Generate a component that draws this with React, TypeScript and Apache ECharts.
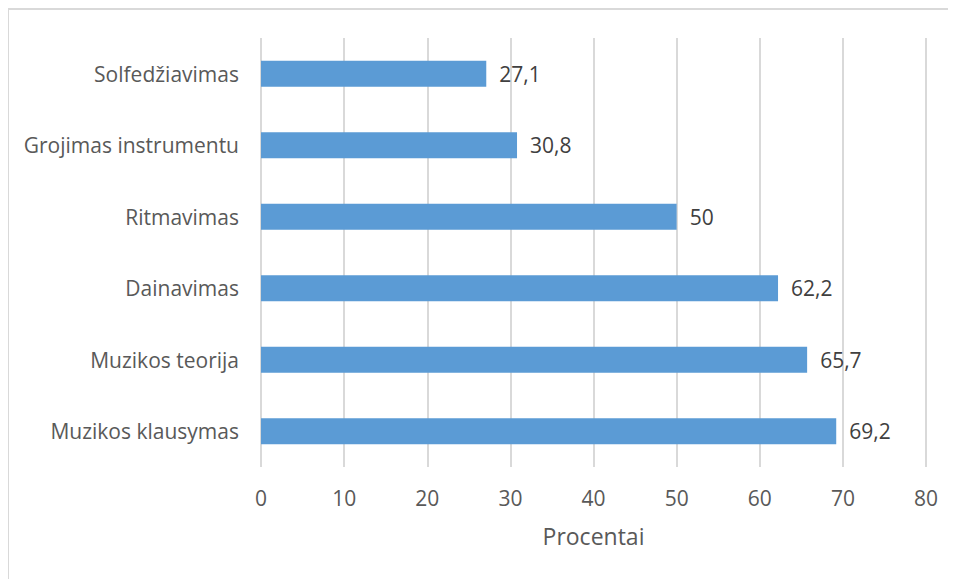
import React, { useEffect, useRef } from "react";
import * as echarts from "echarts";

const categories = [
  "Muzikos klausymas",
  "Muzikos teorija",
  "Dainavimas",
  "Ritmavimas",
  "Grojimas instrumentu",
  "Solfedžiavimas",
];
const values = [69.2, 65.7, 62.2, 50, 30.8, 27.1];
const axisName = "Procentai";
const xMin = 0;
const xMax = 80;
const xStep = 10;

const FONT = "'Open Sans', sans-serif";

export default function App() {
  const ref = useRef<HTMLDivElement>(null);
  useEffect(() => {
    if (!ref.current) return;
    const chart = echarts.init(ref.current, undefined, { renderer: "svg" });
    chart.setOption({
      animation: false,
      backgroundColor: "#ffffff",
      textStyle: { fontFamily: FONT },
      graphic: [
        {
          type: "rect",
          shape: { x: 0, y: 1, width: 2000, height: 2000 },
          style: { fill: "none", stroke: "#d9d9d9", lineWidth: 2 },
          silent: true,
        },
      ],
      grid: { left: 253, right: 30, top: 30, bottom: 112, containLabel: false },
      xAxis: {
        type: "value",
        min: xMin,
        max: xMax,
        interval: xStep,
        name: axisName,
        nameLocation: "middle",
        nameGap: 57,
        nameTextStyle: { fontFamily: FONT, fontSize: 23, color: "#595959" },
        axisLine: { show: false },
        axisTick: { show: false },
        axisLabel: { fontFamily: FONT, fontSize: 21, color: "#595959", margin: 20 },
        splitLine: { show: true, lineStyle: { color: "#d9d9d9", width: 2 } },
      },
      yAxis: {
        type: "category",
        data: categories,
        axisLine: { show: false },
        axisTick: { show: false },
        axisLabel: { fontFamily: FONT, fontSize: 21, color: "#595959", margin: 22 },
        splitLine: { show: false },
      },
      series: [
        {
          type: "bar",
          data: values,
          barWidth: 26,
          itemStyle: { color: "#5B9BD5" },
          label: {
            show: true,
            position: "right",
            distance: 13,
            fontFamily: FONT,
            fontSize: 21,
            color: "#404040",
            formatter: (p: any) => String(p.value).replace(".", ","),
          },
        },
      ],
    });
    return () => chart.dispose();
  }, []);
  return <div ref={ref} style={{ width: 948, height: 571 }} />;
}
